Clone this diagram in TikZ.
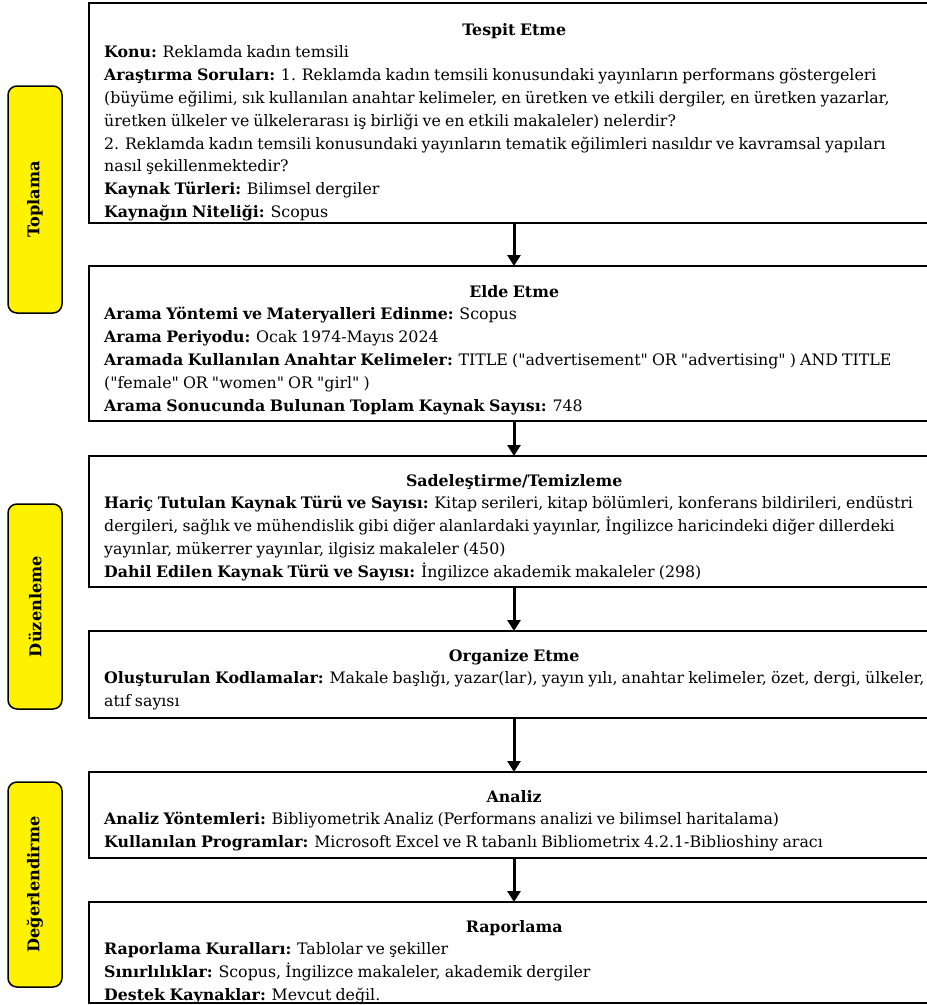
\documentclass[tikz,border=0pt]{standalone}
\usepackage{fontspec}
\setmainfont{DejaVu Serif}[Ligatures=TeXOff, WordSpace=0.82]
\usetikzlibrary{arrows.meta}
\tikzset{
 box/.style={draw, line width=1.8pt, minimum width=850pt, inner sep=0pt, outer sep=0pt},
 txt/.style={anchor=north west, align=left, inner sep=0pt, font=\fontsize{15.8}{22.8}\selectfont},
 phase/.style={draw, line width=1.5pt, fill=yellow, rounded corners=9pt, minimum width=54pt, inner sep=0pt, outer sep=0pt},
 phasetxt/.style={rotate=90, inner sep=0pt, font=\fontsize{16.2}{18}\selectfont\bfseries},
 flow/.style={line width=3pt, -{Triangle[length=11pt,width=13pt]}},
}
\newcommand{\ttl}[1]{\makebox[820pt]{\strut\textbf{#1}}}
\begin{document}
\begin{tikzpicture}[x=1pt,y=-1pt]
\useasboundingbox (0,0) rectangle (927,1005);
\clip (0,0) rectangle (927,1005);
% boxes
\node[box, minimum height=220pt] (b1) at (514,113) {};
\node[box, minimum height=155pt] (b2) at (514,343.5) {};
\node[box, minimum height=131pt] (b3) at (514,521.5) {};
\node[box, minimum height=87pt] (b4) at (514,674.5) {};
\node[box, minimum height=86pt] (b5) at (514,815) {};
\node[box, minimum height=101pt] (b6) at (514,952.5) {};
% arrows
\draw[flow] (b1.south) -- (b2.north);
\draw[flow] (b2.south) -- (b3.north);
\draw[flow] (b3.south) -- (b4.north);
\draw[flow] (b4.south) -- (b5.north);
\draw[flow] (b5.south) -- (b6.north);
% texts
\node[txt] (t1) at (104,19) {\ttl{Tespit Etme}\\
\textbf{Konu:} Reklamda kadın temsili\\
\textbf{Araştırma Soruları:} 1. Reklamda kadın temsili konusundaki yayınların performans göstergeleri\\
(büyüme eğilimi, sık kullanılan anahtar kelimeler, en üretken ve etkili dergiler, en üretken yazarlar,\\
üretken ülkeler ve ülkelerarası iş birliği ve en etkili makaleler) nelerdir?\\
2. Reklamda kadın temsili konusundaki yayınların tematik eğilimleri nasıldır ve kavramsal yapıları\\
nasıl şekillenmektedir?\\
\textbf{Kaynak Türleri:} Bilimsel dergiler\\
\textbf{Kaynağın Niteliği:} Scopus};
\node[txt] (t2) at (104,281) {\ttl{Elde Etme}\\
\textbf{Arama Yöntemi ve Materyalleri Edinme:} Scopus\\
\textbf{Arama Periyodu:} Ocak 1974-Mayıs 2024\\
\textbf{Aramada Kullanılan Anahtar Kelimeler:} TITLE ("advertisement" OR "advertising" ) AND TITLE\\
("female" OR "women" OR "girl" )\\
\textbf{Arama Sonucunda Bulunan Toplam Kaynak Sayısı:} 748};
\node[txt] (t3) at (104,470) {\ttl{Sadeleştirme/Temizleme}\\
\textbf{Hariç Tutulan Kaynak Türü ve Sayısı:} Kitap serileri, kitap bölümleri, konferans bildirileri, endüstri\\
dergileri, sağlık ve mühendislik gibi diğer alanlardaki yayınlar, İngilizce haricindeki diğer dillerdeki\\
yayınlar, mükerrer yayınlar, ilgisiz makaleler (450)\\
\textbf{Dahil Edilen Kaynak Türü ve Sayısı:} İngilizce akademik makaleler (298)};
\node[txt] (t4) at (104,645) {\ttl{Organize Etme}\\
\textbf{Oluşturulan Kodlamalar:} Makale başlığı, yazar(lar), yayın yılı, anahtar kelimeler, özet, dergi, ülkeler,\\
atıf sayısı};
\node[txt] (t5) at (104,786) {\ttl{Analiz}\\
\textbf{Analiz Yöntemleri:} Bibliyometrik Analiz (Performans analizi ve bilimsel haritalama)\\
\textbf{Kullanılan Programlar:} Microsoft Excel ve R tabanlı Bibliometrix 4.2.1-Biblioshiny aracı};
\node[txt] (t6) at (104,916) {\ttl{Raporlama}\\
\textbf{Raporlama Kuralları:} Tablolar ve şekiller\\
\textbf{Sınırlılıklar:} Scopus, İngilizce makaleler, akademik dergiler\\
\textbf{Destek Kaynaklar:} Mevcut değil.};
% phases
\node[phase, minimum height=227pt] (p1) at (35,199.5) {};
\node[phasetxt] (p1t) at (p1.center) {Toplama};
\node[phase, minimum height=205pt] (p2) at (35,606.5) {};
\node[phasetxt] (p2t) at (p2.center) {Düzenleme};
\node[phase, minimum height=205pt] (p3) at (35,884.5) {};
\node[phasetxt] (p3t) at (p3.center) {Değerlendirme};
\end{tikzpicture}
\end{document}
